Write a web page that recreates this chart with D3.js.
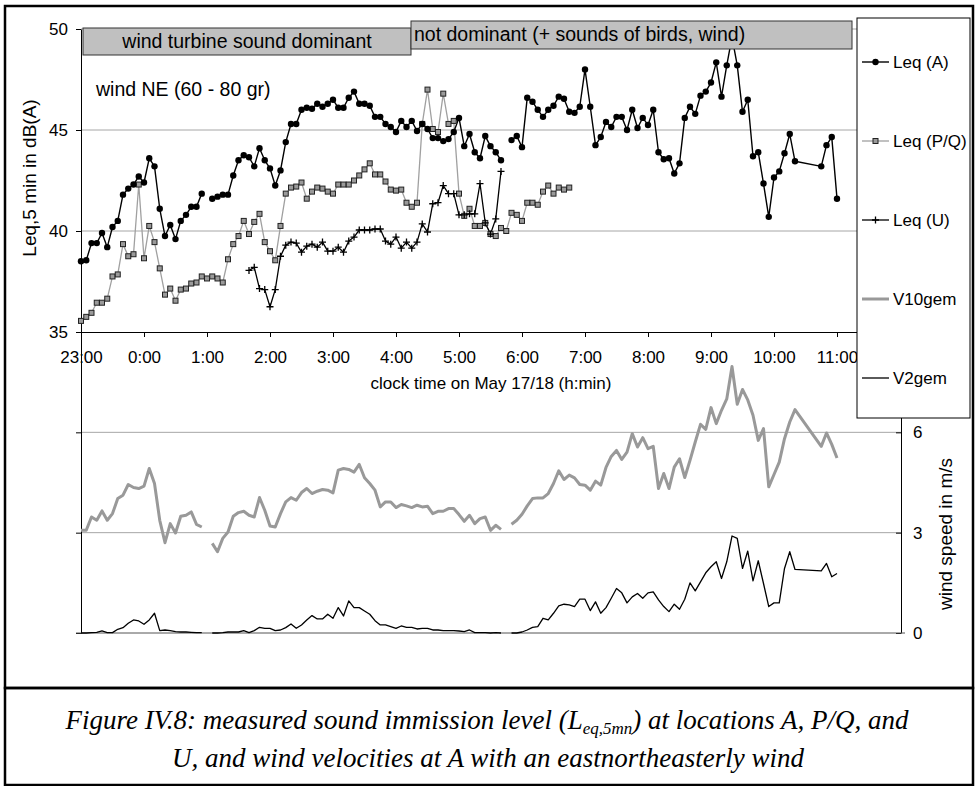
<!DOCTYPE html>
<html>
<head>
<meta charset="utf-8">
<script src="https://cdn.jsdelivr.net/npm/d3@7"></script>
<style>
  body { margin: 0; background: #fff; }
  svg { display: block; font-family: "Liberation Sans", Arial, sans-serif; }
</style>
</head>
<body>
<div id="chart"></div>
<script>
// one step = 5 minutes, step 0 = 23:00 on May 17, step 144 = 11:00 on May 18
const hourLabels = ["23:00", "0:00", "1:00", "2:00", "3:00", "4:00", "5:00", "6:00",
                    "7:00", "8:00", "9:00", "10:00", "11:00"];
const stepsPerHour = 12;

// Leq,5min at location A in dB(A) (null = blank cell -> line break)
const leqA = [
  38.5, 38.55, 39.4, 39.4, 39.9, 39.2, 40.2, 40.5, 41.8, 42.1, 42.3, 42.7, 42.4, 43.6, 43.2, 41.1,
  39.75, 40.3, 39.6, 40.5, 40.8, 41.2, 41.2, 41.85, null,
  41.6, 41.7, 41.8, 41.8, 42.75, 43.5, 43.75, 43.65, 43.2, 44.1, 43.5, 43.1, 42.25, 43.0, 44.4, 45.3,
  45.3, 46.0, 46.1, 46.05, 46.3, 46.15, 46.3, 46.5, 46.1, 46.1, 46.6, 46.9, 46.3, 46.3, 46.2, 45.65,
  45.65, 45.3, 45.15, 44.9, 45.45, 45.15, 45.45, 44.95, 45.3, 45.05, 44.6, 44.6, 44.45, 44.55, 44.9,
  45.6, 44.2, 44.8, 43.9, 43.6, 44.7, 44.2, 43.9, 43.5, null,
  44.5, 44.7, 44.15, 46.6, 46.4, 46.0, 45.65, 46.0, 46.2, 46.65, 46.55, 45.9, 45.85, 46.15, 48.0,
  46.15, 44.25, 44.65, 45.4, 45.15, 45.65, 45.65, 45.0, 46.0, 45.1, 45.6, 45.25, 46.0, 43.9, 43.55,
  43.6, 42.85, 43.35, 45.6, 46.15, 45.8, 46.7, 46.9, 47.35, 48.35, 46.65, 48.2, 49.6, 48.2, 45.9,
  46.5, 43.7, 43.9, 42.35, 40.7, 42.65, 42.95, 43.85, 44.8, 43.45,
  null, null, null, null,
  43.2, 44.25, 44.65, 41.6
];

// Leq,5min at P/Q, starts at step 0
const leqPQ = [
  35.55, 35.75, 35.95, 36.45, 36.45, 36.65, 37.75, 37.85, 39.35, 38.75,
  38.85, 42.3, 38.65, 40.25, 39.45, 38.15, 36.85, 37.15, 36.55, 37.1,
  37.15, 37.4, 37.45, 37.75, 37.65, 37.75, 37.65, 37.45, 38.6, 39.35,
  39.75, 40.5, 39.85, 40.45, 40.85, 39.45, 39.0, 38.55, 40.25, 41.85,
  42.15, 42.2, 42.4, 41.6, 41.95, 42.15, 42.1, 41.95, 41.85, 42.3,
  42.3, 42.3, 42.5, 42.75, 43.05, 43.35, 42.8, 42.8, 42.45, 42.05,
  42.0, 42.05, 41.4, 41.2, 41.4, 45.3, 47.0, 45.05, 44.9, 46.8,
  45.3, 45.45, 41.85, 40.75, 41.1, 40.25, 40.25, 40.4, 39.85, 39.75,
  40.15, 40.0, 40.9, 40.8, 40.5, 41.4, 41.4, 41.3, 41.95, 42.25,
  41.85, 42.15, 42.05, 42.15
];

// Leq,5min at U, starts at step 32 (1:40)
const leqUStart = 32;
const leqU = [
  38.05, 38.2, 37.15, 37.1, 36.25, 37.1, 38.75, 39.3, 39.45, 39.4,
  38.95, 39.25, 39.35, 39.2, 39.45, 39.0, 39.0, 39.2, 38.95, 39.5,
  39.7, 40.05, 40.05, 40.05, 40.1, 40.1, 39.5, 39.35, 39.7, 39.15,
  39.45, 39.15, 39.45, 40.35, 39.95, 41.35, 41.4, 42.25, 41.85, 41.85,
  40.8, 40.8, 40.85, 40.85, 42.35, 40.4, 39.85, 40.6, 42.95
];

// wind speed at A in m/s, 10 m and 2 m height
const v10gem = [
  3.07, 3.07, 3.47, 3.37, 3.65, 3.37, 3.57, 4.02, 4.12, 4.44, 4.35, 4.32, 4.39, 4.92, 4.47, 3.37,
  2.7, 3.27, 2.99, 3.49, 3.52, 3.62, 3.25, 3.17, null,
  2.68, 2.43, 2.83, 3.02, 3.49, 3.6, 3.64, 3.52, 3.47, 4.05, 3.67, 3.2, 3.17, 3.57, 3.92, 4.05,
  3.97, 4.2, 4.32, 4.17, 4.24, 4.29, 4.27,
  4.19, 4.87, 4.92, 4.89, 4.81, 5.04, 4.64, 4.47, 4.27, 3.77, 3.92, 3.92, 3.75, 3.84, 3.8, 3.75,
  3.82, 3.77, 3.79, 3.57, 3.64, 3.64, 3.72, 3.72, 3.54, 3.34, 3.52, 3.27, 3.42, 3.47, 3.07, 3.22,
  3.1, null,
  3.25, 3.37, 3.55, 3.8, 4.02, 4.04, 4.04, 4.17, 4.47, 4.85, 4.59, 4.72, 4.64, 4.44, 4.42, 4.27,
  4.54, 4.42, 4.95, 5.28, 5.46, 5.19, 5.41,
  5.96, 5.56, 5.84, 5.51, 5.58, 4.32, 4.77, 4.32, 4.96, 5.21, 4.65, 5.16, 5.71, 6.24, 6.09, 6.74,
  6.26, 6.66, 7.0, 7.97, 6.84, 7.28, 6.97, 6.51, 5.76, 6.11, 4.37, 4.74, 5.11, 5.81, 6.31, 6.68,
  null, null, null, null,
  5.58, 5.98, 5.64, 5.23
];
const v2gem = [
  0, 0, 0.01, 0.02, 0.06, 0.01, 0.01, 0.11, 0.16, 0.29, 0.39, 0.36, 0.26, 0.39, 0.59, 0.07,
  0.09, 0.07, 0.04, 0.03, 0.03, 0.02, 0.01, 0.01, null,
  0, 0, 0.01, 0.03, 0.03, 0.03, 0.07, 0.01, 0.07, 0.17, 0.14, 0.14, 0.07, 0.09, 0.16, 0.27,
  0.14, 0.24, 0.39, 0.52, 0.42, 0.42, 0.56,
  0.44, 0.76, 0.51, 0.96, 0.76, 0.76, 0.66, 0.56, 0.37, 0.24, 0.24, 0.19, 0.14, 0.21, 0.17, 0.17,
  0.12, 0.14, 0.14, 0.09, 0.09, 0.07, 0.07, 0.07, 0.06, 0.04, 0.09, 0.01, 0.01, 0.01, 0, 0.01,
  0, null,
  0, 0, 0.03, 0.09, 0.17, 0.19, 0.44, 0.39, 0.59, 0.81, 0.86, 0.84, 0.79, 1.01, 1.01, 0.67,
  0.93, 0.59, 0.76, 1.04, 1.33, 1.2, 0.9,
  1.08, 1.18, 1.04, 1.2, 1.23, 0.99, 0.79, 0.64, 0.86, 0.71, 1.01, 1.5, 1.26, 1.53, 1.8, 1.98,
  2.13, 1.63, 2.13, 2.9, 2.83, 1.93, 2.45, 1.56, 2.16, 1.48, 0.79, 0.9, 0.9, 1.93, 2.43, 1.9,
  null, null, null, null,
  1.86, 2.08, 1.68, 1.78
];

// the logger at A has no rows for 10:25 - 10:40, the lines run straight across
const skippedSteps = [137, 138, 139, 140];

const leqTicks = [35, 40, 45, 50];
const windTicks = [0, 3, 6];
const legendItems = ["Leq (A)", "Leq (P/Q)", "Leq (U)", "V10gem", "V2gem"];

// ---------------------------------------------------------------
const width = 975, height = 786;
const left = 81, right = 901;
const gridColor = "#a6a6a6";

const svg = d3.select("#chart").append("svg")
  .attr("width", width)
  .attr("height", height);

const x = d3.scaleLinear().domain([0, 144]).range([left, 837]);
const yL = d3.scaleLinear().domain([35, 50]).range([332, 29]);
const yW = d3.scaleLinear().domain([0, 9]).range([633, 332]);

// outer frames
svg.append("rect").attr("x", 5).attr("y", 6).attr("width", 968).attr("height", 682)
  .attr("fill", "none").attr("stroke", "#000").attr("stroke-width", 2.5);
svg.append("rect").attr("x", 5).attr("y", 688).attr("width", 968).attr("height", 97)
  .attr("fill", "none").attr("stroke", "#000").attr("stroke-width", 2.5);

// gridlines
svg.append("g").selectAll("line")
  .data(leqTicks.slice(1))
  .join("line")
  .attr("x1", left).attr("x2", right)
  .attr("y1", d => yL(d)).attr("y2", d => yL(d))
  .attr("stroke", gridColor);
svg.append("g").selectAll("line")
  .data(windTicks.slice(1))
  .join("line")
  .attr("x1", left).attr("x2", right)
  .attr("y1", d => yW(d)).attr("y2", d => yW(d))
  .attr("stroke", gridColor);

// axes
const axisFont = g => g.selectAll("text").attr("font-size", 17).attr("fill", "#000")
  .attr("font-family", "Liberation Sans, Arial, sans-serif");

svg.append("g")
  .attr("transform", `translate(${left},0)`)
  .call(d3.axisLeft(yL).tickValues(leqTicks).tickSize(5).tickSizeOuter(0).tickPadding(8))
  .call(axisFont);

svg.append("g")
  .attr("transform", `translate(${left},0)`)
  .call(d3.axisLeft(yW).tickValues(windTicks).tickSize(5).tickSizeOuter(0).tickFormat(""));

svg.append("g")
  .attr("transform", `translate(${right},0)`)
  .call(d3.axisRight(yW).tickValues(windTicks).tickSizeInner(-5).tickSizeOuter(0).tickPadding(12))
  .call(axisFont);

svg.append("g")
  .attr("transform", `translate(0,${yL(35)})`)
  .call(d3.axisBottom(x)
    .tickValues(d3.range(0, 145, stepsPerHour))
    .tickFormat((d, i) => hourLabels[i])
    .tickSize(5).tickSizeOuter(0).tickPadding(14))
  .call(g => g.select(".domain").attr("d", `M${left},0.5H${right}`))
  .call(axisFont);

// zero line of the wind part
svg.append("line")
  .attr("x1", left - 5).attr("x2", right + 4)
  .attr("y1", yW(0)).attr("y2", yW(0))
  .attr("stroke", "#555");

// axis titles
svg.append("text")
  .attr("transform", `translate(29,178) rotate(-90)`)
  .attr("text-anchor", "middle").attr("dominant-baseline", "central")
  .attr("font-size", 19)
  .text("Leq,5 min in dB(A)");

svg.append("text")
  .attr("transform", `translate(945,534) rotate(-90)`)
  .attr("text-anchor", "middle").attr("dominant-baseline", "central")
  .attr("font-size", 19)
  .text("wind speed in m/s");

svg.append("text")
  .attr("x", (left + right) / 2).attr("y", 389)
  .attr("text-anchor", "middle")
  .attr("font-size", 17)
  .text("clock time on May 17/18 (h:min)");

// series helpers
function toPoints(values, start, skip) {
  return values.map((v, i) => ({ step: start + i, v: v }))
    .filter(d => !skip.includes(d.step));
}
function drawLine(points, y, color, w) {
  svg.append("path")
    .datum(points)
    .attr("fill", "none")
    .attr("stroke", color)
    .attr("stroke-width", w)
    .attr("stroke-linejoin", "round")
    .attr("d", d3.line().defined(d => d.v != null).x(d => x(d.step)).y(d => y(d.v)));
}

const ptsA = toPoints(leqA, 0, skippedSteps);
const ptsPQ = toPoints(leqPQ, 0, []);
const ptsU = toPoints(leqU, leqUStart, []);
const ptsV10 = toPoints(v10gem, 0, skippedSteps);
const ptsV2 = toPoints(v2gem, 0, skippedSteps);

drawLine(ptsV10, yW, "#999", 3);
drawLine(ptsV2, yW, "#000", 1.3);
drawLine(ptsPQ, yL, "#a0a0a0", 1.3);
drawLine(ptsU, yL, "#000", 1.3);
drawLine(ptsA, yL, "#000", 1.4);

const plusPath = "M-3.5,0H3.5M0,-3.5V3.5";

svg.append("g").selectAll("rect")
  .data(ptsPQ.filter(d => d.v != null))
  .join("rect")
  .attr("x", d => x(d.step) - 2.5).attr("y", d => yL(d.v) - 2.5)
  .attr("width", 5).attr("height", 5)
  .attr("fill", "#9a9a9a").attr("stroke", "#222").attr("stroke-width", 1);

svg.append("g").selectAll("path")
  .data(ptsU.filter(d => d.v != null))
  .join("path")
  .attr("transform", d => `translate(${x(d.step)},${yL(d.v)})`)
  .attr("d", plusPath)
  .attr("stroke", "#000").attr("stroke-width", 1.3);

svg.append("g").selectAll("circle")
  .data(ptsA.filter(d => d.v != null))
  .join("circle")
  .attr("cx", d => x(d.step)).attr("cy", d => yL(d.v))
  .attr("r", 3.2)
  .attr("fill", "#000");

// annotation boxes
svg.append("rect").attr("x", 83).attr("y", 28).attr("width", 328).attr("height", 27)
  .attr("fill", "#c0c0c0").attr("stroke", "#333");
svg.append("text").attr("x", 247).attr("y", 48).attr("text-anchor", "middle")
  .attr("font-size", 19.5).text("wind turbine sound dominant");

svg.append("rect").attr("x", 411).attr("y", 21).attr("width", 441).attr("height", 28)
  .attr("fill", "#c0c0c0").attr("stroke", "#333");
svg.append("text").attr("x", 414).attr("y", 41)
  .attr("font-size", 19.5).text("not dominant (+ sounds of birds, wind)");

svg.append("text").attr("x", 96).attr("y", 96)
  .attr("font-size", 19.5).text("wind NE (60 - 80 gr)");

// legend
const legend = svg.append("g");
legend.append("rect").attr("x", 857).attr("y", 18).attr("width", 113).attr("height", 400)
  .attr("fill", "#fff").attr("stroke", "#000");
const legendY = d3.scalePoint().domain(legendItems).range([62, 378]);
const legendStyle = {
  "Leq (A)": { color: "#000", w: 1.4 },
  "Leq (P/Q)": { color: "#a0a0a0", w: 1.3 },
  "Leq (U)": { color: "#000", w: 1.3 },
  "V10gem": { color: "#999", w: 3 },
  "V2gem": { color: "#000", w: 1.3 }
};
const item = legend.selectAll("g.item")
  .data(legendItems)
  .join("g")
  .attr("class", "item")
  .attr("transform", d => `translate(862,${legendY(d)})`);
item.append("line")
  .attr("x1", 0).attr("x2", 27)
  .attr("stroke", d => legendStyle[d].color)
  .attr("stroke-width", d => legendStyle[d].w);
item.filter(d => d === "Leq (A)").append("circle")
  .attr("cx", 13.5).attr("r", 3.2).attr("fill", "#000");
item.filter(d => d === "Leq (P/Q)").append("rect")
  .attr("x", 11).attr("y", -2.5).attr("width", 5).attr("height", 5)
  .attr("fill", "#9a9a9a").attr("stroke", "#222");
item.filter(d => d === "Leq (U)").append("path")
  .attr("transform", "translate(13.5,0)")
  .attr("d", plusPath).attr("stroke", "#000").attr("stroke-width", 1.3);
item.append("text")
  .attr("x", 31).attr("dy", "0.35em")
  .attr("font-size", 17)
  .text(d => d);

// caption
const caption = svg.append("g")
  .attr("font-family", "Liberation Serif, 'Times New Roman', serif")
  .attr("font-style", "italic")
  .attr("font-size", 27)
  .attr("text-anchor", "middle");
const cap1 = caption.append("text").attr("x", 487).attr("y", 729);
cap1.append("tspan").text("Figure IV.8: measured sound immission level (L");
cap1.append("tspan").attr("font-size", 17).attr("dy", 5).text("eq,5mn");
cap1.append("tspan").attr("dy", -5).text(") at locations A, P/Q, and");
caption.append("text").attr("x", 488).attr("y", 767)
  .text("U, and wind velocities at A with an eastnortheasterly wind");
</script>
</body>
</html>
